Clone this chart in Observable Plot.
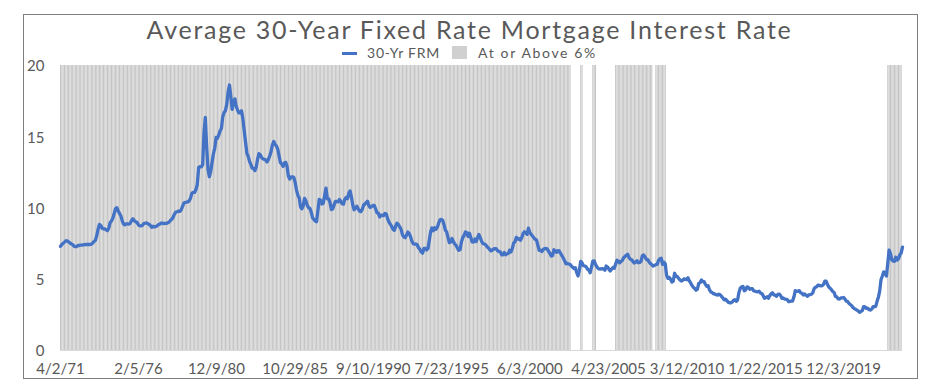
<!DOCTYPE html>
<html><head><meta charset="utf-8">
<script src="https://cdn.jsdelivr.net/npm/d3@7"></script>
<script src="https://cdn.jsdelivr.net/npm/@observablehq/plot@0.6"></script>
<style>
body{margin:0;background:#fff;width:939px;height:392px;position:relative;overflow:hidden;font-family:Lato,"Open Sans",sans-serif;color:#595959}
#frame{position:absolute;left:23px;top:14px;width:895px;height:365px;border:1.5px solid #7f7f7f;box-sizing:border-box}
#title{position:absolute;left:0;width:939px;top:17px;text-align:center;font-size:25px;line-height:24px;height:24px;white-space:nowrap}
#title span{display:inline-block;line-height:24px;height:24px}
.lg{position:absolute;font-size:14px;line-height:12px;top:47px;white-space:nowrap}
#sw1{position:absolute;left:342px;top:52px;width:15px;height:3px;background:#4472C4}
#sw2{position:absolute;left:452px;top:46px;width:15px;height:13px;background:#d0d0d0}
#chart{position:absolute;left:0;top:55px}
</style></head>
<body>
<div id="title"><span id="tt">Average 30-Year Fixed Rate Mortgage Interest Rate</span></div>
<div id="sw1"></div><div class="lg" id="lg1" style="left:367px">30-Yr FRM</div>
<div id="sw2"></div><div class="lg" id="lg2" style="left:478px">At or Above 6%</div>
<div id="chart"></div>
<div id="frame"></div>
<script>
// Monthly average 30-yr FRM (%); series starts April 1971
const rates1970s = [
 7.31,7.43,7.53,7.60,7.70,7.69,7.63,7.55,7.48,
 7.44,7.32,7.29,7.29,7.37,7.37,7.40,7.40,7.42,7.43,7.44,7.44,
 7.44,7.44,7.46,7.54,7.65,7.73,8.05,8.50,8.85,8.77,8.58,8.54,
 8.54,8.46,8.41,8.58,8.97,9.09,9.28,9.59,9.96,10.02,9.79,9.62,
 9.43,9.10,8.89,8.82,8.89,8.89,8.87,8.92,9.13,9.24,9.11,9.03,
 8.99,8.83,8.75,8.74,8.77,8.90,8.93,8.95,8.91,8.85,8.77,8.64,
 8.72,8.67,8.69,8.75,8.83,8.86,8.94,8.94,8.90,8.92,8.92,8.96,
 9.01,9.14,9.20,9.35,9.57,9.71,9.74,9.78,9.76,9.86,10.11,10.35,
 10.39,10.41,10.43,10.50,10.69,11.04,11.09,11.09,11.30,11.64,12.83,12.90];
const rates1980s = [
 12.88,13.04,15.28,16.35,14.26,12.71,12.19,12.56,13.20,13.79,14.21,14.95,
 14.90,15.13,15.40,15.58,16.40,16.70,16.83,17.29,18.16,18.63,17.83,16.92,
 17.40,17.66,17.16,16.89,16.68,16.70,16.82,16.27,15.43,14.61,13.83,13.62,
 13.25,13.04,12.80,12.78,12.63,12.87,13.43,13.81,13.73,13.54,13.44,13.42,
 13.37,13.23,13.39,13.65,13.94,14.42,14.67,14.47,14.35,14.13,13.64,13.18,
 13.08,12.92,13.17,13.20,12.91,12.22,12.03,12.19,12.19,12.14,11.78,11.26,
 10.88,10.71,10.08,9.94,10.14,10.68,10.51,10.20,10.01,9.98,9.70,9.31,
 9.20,9.08,9.04,9.83,10.60,10.54,10.28,10.33,10.89,11.40,10.65,10.64,
 10.38,9.89,9.93,10.20,10.46,10.46,10.43,10.60,10.48,10.30,10.27,10.61,
 10.73,10.65,11.03,11.20,10.77,10.20,9.88,9.99,10.13,9.95,9.77,9.74];
const rates1990s = [
 9.90,10.20,10.27,10.37,10.48,10.16,10.04,10.10,10.18,10.18,9.93,9.67,
 9.64,9.37,9.50,9.49,9.47,9.62,9.58,9.24,9.01,8.86,8.71,8.50,
 8.43,8.76,8.94,8.85,8.67,8.51,8.13,7.98,7.92,8.09,8.31,8.22,
 7.99,7.68,7.50,7.47,7.47,7.42,7.21,7.11,6.92,6.83,7.16,7.17,
 7.06,7.15,7.68,8.32,8.60,8.40,8.61,8.51,8.64,8.93,9.17,9.20,
 9.15,8.83,8.46,8.32,7.96,7.57,7.61,7.86,7.64,7.48,7.38,7.20,
 7.03,7.08,7.62,7.93,8.07,8.32,8.25,8.00,8.23,7.92,7.62,7.60,
 7.82,7.65,7.90,8.14,7.94,7.69,7.50,7.48,7.43,7.29,7.21,7.10,
 6.99,7.04,7.13,7.14,7.14,7.00,6.95,6.92,6.72,6.71,6.87,6.72,
 6.79,6.81,7.04,6.92,7.15,7.55,7.63,7.94,7.82,7.85,7.74,7.91];
const rates2000s = [
 8.21,8.33,8.24,8.15,8.58,8.29,8.15,8.03,7.91,7.80,7.75,7.38,
 7.03,7.05,6.95,7.08,7.15,7.16,7.13,6.95,6.82,6.62,6.66,7.07,
 7.00,6.89,7.01,6.99,6.81,6.65,6.49,6.29,6.09,6.11,6.07,6.05,
 5.92,5.84,5.75,5.81,5.48,5.23,5.63,6.26,6.15,5.95,5.93,5.88,
 5.71,5.64,5.45,5.83,6.27,6.29,6.06,5.87,5.75,5.72,5.73,5.75,
 5.71,5.63,5.93,5.86,5.72,5.58,5.70,5.82,5.77,6.07,6.33,6.27,
 6.15,6.25,6.32,6.51,6.60,6.68,6.76,6.52,6.40,6.36,6.24,6.14,
 6.22,6.29,6.16,6.18,6.26,6.66,6.70,6.57,6.38,6.38,6.21,6.10,
 6.02,5.92,5.97,6.03,6.04,6.32,6.43,6.48,6.04,6.20,6.09,5.29,
 5.06,5.13,5.00,4.81,4.86,5.42,5.22,5.19,5.06,4.95,4.88,4.93];
const rates2010s = [
 5.03,4.99,4.97,5.10,4.89,4.74,4.56,4.43,4.35,4.23,4.30,4.71,
 4.76,4.95,4.84,4.84,4.64,4.51,4.55,4.27,4.11,4.07,3.99,3.96,
 3.92,3.89,3.95,3.91,3.80,3.68,3.55,3.60,3.50,3.38,3.35,3.35,
 3.41,3.53,3.57,3.45,3.54,4.07,4.37,4.46,4.49,4.19,4.26,4.46,
 4.43,4.30,4.34,4.34,4.19,4.16,4.13,4.12,4.16,4.04,4.00,3.86,
 3.67,3.71,3.77,3.67,3.84,3.98,4.05,3.91,3.89,3.80,3.94,3.96,
 3.87,3.66,3.69,3.61,3.60,3.57,3.44,3.44,3.46,3.47,3.77,4.20,
 4.15,4.17,4.20,4.05,4.01,3.90,3.97,3.88,3.81,3.90,3.92,3.95,
 4.03,4.33,4.44,4.47,4.59,4.57,4.53,4.55,4.63,4.86,4.87,4.64,
 4.46,4.37,4.27,4.14,4.07,3.80,3.77,3.62,3.61,3.69,3.70,3.72];
const rates2020s = [
 3.62,3.47,3.45,3.31,3.23,3.16,3.02,2.94,2.89,2.83,2.77,2.68,
 2.74,2.81,3.08,3.06,2.96,2.98,2.87,2.84,2.90,3.07,3.07,3.10,
 3.45,3.76,4.17,4.98,5.23,5.52,5.41,5.22,6.11,7.05,6.80,6.36,
 6.27,6.26,6.54,6.34,6.43,6.71,6.84,7.25];

const tickDates = ["1971-04-02","1976-02-05","1980-12-09","1985-10-29","1990-09-10","1995-07-23","2000-06-03","2005-04-23","2010-03-12","2015-01-22","2019-12-03"];
const tickLabels = ["4/2/71","2/5/76","12/9/80","10/29/85","9/10/1990","7/23/1995","6/3/2000","4/23/2005","3/12/2010","1/22/2015","12/3/2019"];
const yTicks = [0,5,10,15,20];
const threshold = 6;

const allRates = [...rates1970s, ...rates1980s, ...rates1990s, ...rates2000s, ...rates2010s, ...rates2020s];
const start = new Date(Date.UTC(1971,3,1));
const series = allRates.map((r,i) => ({date: d3.utcMonth.offset(start, i), rate: r}));
const shade = series.map((d,i) => ({d0: d.date, d1: d3.utcMonth.offset(start, i+1), rate: d.rate})).filter(d => d.rate >= threshold);
const endDate = series[series.length-1].date;
const tickD = tickDates.map(s => new Date(s + "T00:00:00Z"));
const labelMap = new Map(tickD.map((d,i) => [+d, tickLabels[i]]));

const chart = Plot.plot({
  width: 939, height: 330,
  marginLeft: 60, marginRight: 37, marginTop: 10, marginBottom: 35,
  x: {type: "utc", domain: [start, endDate]},
  y: {domain: [0, 20]},
  style: {fontFamily: "Lato, 'Open Sans', sans-serif", fontSize: "15px", color: "#595959", background: "transparent", overflow: "visible"},
  marks: [
    Plot.rect(shade, {x1: "d0", x2: "d1", y1: 0, y2: 20, fill: "#c5c5c5", insetRight: 0.3, clip: true}),
    Plot.ruleY([0], {stroke: "#d9d9d9", strokeWidth: 1.2}),
    Plot.line(series, {x: "date", y: "rate", stroke: "#4472C4", strokeWidth: 3.3, strokeLinejoin: "round"}),
    Plot.axisX(tickD, {tickSize: 0, tickPadding: 13, tickFormat: d => labelMap.get(+d), fontSize: 15, label: null}),
    Plot.axisY(yTicks, {tickSize: 0, tickPadding: 16, fontSize: 15, label: null, dy: 1})
  ]
});
document.getElementById("chart").appendChild(chart);

function fit(id, target){
  const el = document.getElementById(id);
  const w = el.getBoundingClientRect().width;
  const n = el.textContent.length;
  el.style.letterSpacing = ((target - w) / n) + "px";
}
fit("tt", 646);
fit("lg1", 73);
fit("lg2", 119);
</script>
</body></html>
